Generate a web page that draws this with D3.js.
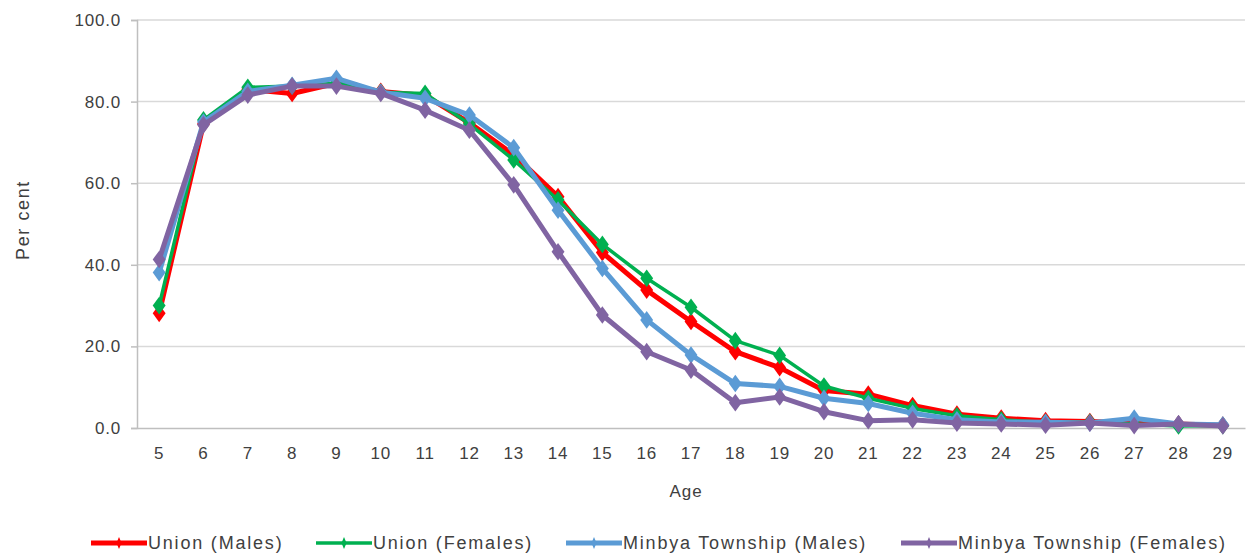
<!DOCTYPE html>
<html>
<head>
<meta charset="utf-8">
<script src="https://d3js.org/d3.v7.min.js"></script>
<style>
  body { margin: 0; background: #fff; }
  text { font-family: "Liberation Sans", Arial, sans-serif; fill: #404040; }
</style>
</head>
<body>
<script>
    // data
    let ages = [5,6,7,8,9,10,11,12,13,14,15,16,17,18,19,20,21,22,23,24,25,26,27,28,29];
    let yTicks = [0, 20, 40, 60, 80, 100];

    let unionMales     = [28.1,74.5,83.0,82.0,84.5,82.5,81.5,74.8,67.0,56.7,43.0,33.8,26.1,18.7,14.8,9.2,8.3,5.5,3.4,2.4,1.8,1.6,1.2,1.0,0.7];
    let unionFemales   = [30.0,75.5,83.5,83.8,84.5,82.3,82.0,74.5,65.7,55.9,45.0,36.7,29.6,21.4,17.8,10.3,7.3,4.8,3.0,2.0,1.4,1.4,1.0,0.5,0.6];
    let minbyaMales    = [38.1,75.0,82.5,84.0,85.7,82.3,80.8,76.7,68.7,53.4,39.1,26.5,17.9,10.9,10.2,7.3,6.0,3.6,2.0,1.5,1.4,1.2,2.4,1.0,0.8];
    let minbyaFemales  = [41.3,74.3,81.6,83.8,83.8,82.0,77.9,73.0,59.6,43.2,27.7,18.7,14.2,6.2,7.6,4.0,1.8,2.0,1.2,1.0,0.7,1.2,0.6,1.0,0.5];

    let seriesNames  = ["Union (Males)", "Union (Females)", "Minbya Township (Males)", "Minbya Township (Females)"];
    let seriesColors = ["#ff0000", "#00b050", "#5b9bd5", "#8064a2"];
    let seriesWidths = [5, 3.5, 5, 5];
    let seriesValues = [unionMales, unionFemales, minbyaMales, minbyaFemales];

    let width = 1249, height = 559;
    let margin = {top: 20, left: 137, right: 4, bottom: 131};

    let svg = d3.select("body").append("svg")
        .attr("width", width)
        .attr("height", height);

    let x = d3.scaleBand()
        .domain(ages)
        .range([margin.left, width - margin.right]);

    let y = d3.scaleLinear()
        .domain([0, 100])
        .range([height - margin.bottom, margin.top]);

    // grid
    svg.append("g")
        .selectAll("line")
        .data(yTicks.filter(d => d > 0))
        .join("line")
            .attr("x1", margin.left)
            .attr("x2", width - margin.right)
            .attr("y1", d => y(d))
            .attr("y2", d => y(d))
            .attr("stroke", "#d9d9d9")
            .attr("stroke-width", 1.5);

    // y axis
    let yAxis = svg.append("g")
        .attr("transform", `translate(${margin.left},0)`)
        .call(d3.axisLeft(y).tickValues(yTicks).tickFormat(d3.format(".1f")).tickSize(6).tickPadding(10));
    yAxis.select(".domain").attr("stroke", "#bfbfbf").attr("stroke-width", 1.5);
    yAxis.selectAll(".tick line").attr("stroke", "#bfbfbf").attr("stroke-width", 1.5);
    yAxis.selectAll(".tick text").style("font-size", "17px").style("letter-spacing", "0.8px")
        .attr("fill", "#404040").style("font-family", "Liberation Sans, Arial, sans-serif");

    // x axis
    let xAxis = svg.append("g")
        .attr("transform", `translate(0,${y(0)})`)
        .call(d3.axisBottom(x).tickSize(0).tickPadding(19));
    xAxis.select(".domain").attr("stroke", "#bfbfbf").attr("stroke-width", 1.5);
    xAxis.selectAll(".tick text").style("font-size", "17px").style("letter-spacing", "0.8px")
        .attr("fill", "#404040").style("font-family", "Liberation Sans, Arial, sans-serif");

    // axis titles
    svg.append("text")
        .attr("transform", `translate(29,${(y(0) + y(100)) / 2 - 4}) rotate(-90)`)
        .attr("text-anchor", "middle")
        .style("font-size", "18px")
        .style("letter-spacing", "1.6px")
        .text("Per cent");

    svg.append("text")
        .attr("x", (margin.left + width - margin.right) / 2 - 5)
        .attr("y", 497)
        .attr("text-anchor", "middle")
        .style("font-size", "17px")
        .style("letter-spacing", "1px")
        .text("Age");

    let cx = d => x(d) + x.bandwidth() / 2;
    let line = d3.line()
        .x((d, i) => cx(ages[i]))
        .y(d => y(d));
    let diamond = d3.symbol().type(d3.symbolDiamond).size(100);

    seriesValues.forEach((vals, k) => {
        let g = svg.append("g");
        g.append("path")
            .datum(vals)
            .attr("d", line)
            .attr("fill", "none")
            .attr("stroke", seriesColors[k])
            .attr("stroke-width", seriesWidths[k])
            .attr("stroke-linejoin", "round");
        g.selectAll("path.pt")
            .data(vals)
            .join("path")
                .attr("class", "pt")
                .attr("d", diamond)
                .attr("transform", (d, i) => `translate(${cx(ages[i])},${y(d)}) scale(1.2,0.95)`)
                .attr("fill", seriesColors[k]);
    });

    // legend
    let legendX = [91, 316, 566, 901];
    let legend = svg.append("g")
        .selectAll("g")
        .data(seriesNames)
        .join("g")
            .attr("transform", (d, i) => `translate(${legendX[i]},543)`);
    legend.append("line")
        .attr("x1", 0).attr("x2", 56)
        .attr("stroke", (d, i) => seriesColors[i])
        .attr("stroke-width", (d, i) => seriesWidths[i]);
    legend.append("path")
        .attr("d", d3.symbol().type(d3.symbolDiamond).size(40))
        .attr("transform", "translate(28,0) scale(0.75,1)")
        .attr("fill", (d, i) => seriesColors[i]);
    legend.append("text")
        .attr("x", 57)
        .attr("dy", "0.35em")
        .style("font-size", "18px")
        .style("letter-spacing", "1.8px")
        .text(d => d);
</script>
</body>
</html>
